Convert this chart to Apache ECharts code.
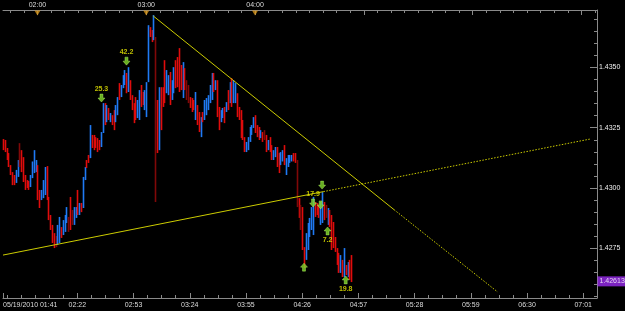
<!DOCTYPE html>
<html><head><meta charset="utf-8">
<script src="https://cdn.jsdelivr.net/npm/echarts@6/dist/echarts.min.js"></script>
<style>html,body{margin:0;padding:0;background:#000;}#c{width:625px;height:311px;}</style>
</head><body><div id="c"></div>
<script>
// ---- data (prices in pips above BASE 1.4000; x = minutes after 01:41 on 05/19/2010) ----
const DATE = '05/19/2010';
const START_MIN = 101; // 01:41
const BASE = 1.4;
const openP = [320,319,316,313,309,306,304,302.5,305,317,314,311,304,303,302,300.5,305,308,307,309,298,295.5,297,299,308,296,288,284,280,279,277,279,283.5,281,283,286,287.5,295,290,285.5,288,298,289.5,293,292,304,311,313,313,321.5,321,320.5,320,319.5,317.5,323,334.5,327.5,333,328,330,331.5,327.5,331,342.5,338,342,343,347,340,344,338,334.5,337,329.5,329,342,339,333,331,344,366.5,365,362,362,336,316,341,341,352,339.5,339,347.5,337,340,352,353.5,357,350.5,338,349,344,342,337.5,337,336,329,334,331,321.5,331,328.5,331,333,336,337,347,341,344,333,327.5,329.5,333,332,340,335.5,345,335.5,336,339,333,332,328,320.5,315.5,316,319.5,322.5,325,330,325.5,325,321,323,323.5,321.5,316,320.5,317.5,312,313,316.5,314,310,311.5,317.5,306,309,311,311.5,314,314,311,295.5,292.5,291.5,275,270.5,275,280,283,281,294,293.5,292.5,285,286,294,292.5,285,290.5,288.5,285.5,279.5,275,272.5,265,270,263.5,268,263.5,270,272];
const highP = [320.3,319.9,316.6,314.5,309.5,306.6,305.4,307.5,311.6,318.6,315.7,312.8,305.4,303.3,302.9,305.4,311,315.7,311.6,309.5,299.2,299.2,303.3,308.7,309.1,296.3,288.8,284.7,281.3,280.1,284.7,288,283.8,286.7,288.8,292.1,288,296.3,290.9,292.1,292.1,299.2,293.8,293.8,304.6,308.7,311.6,313.7,326.1,322,322,321.1,320.7,319.9,323.2,335.2,335.2,334.4,333.2,331.1,330.2,332.3,334.4,337.7,343.5,342.7,346.8,348.9,347.7,350.1,344.7,338.5,335.2,337.7,336.5,340.6,342.7,339.8,340.6,343.9,367.5,366.7,365.5,371.7,362.6,336.5,341.8,341.8,341.8,353,348.9,346.8,348.1,344.7,350.1,353,354.3,358,351,352.2,349.7,344.7,342.7,337.7,337.3,336.5,339.8,334.4,331.5,329.4,331.5,336.5,337.3,338.5,342.7,347.7,347.7,344.7,344.7,333.6,332.3,333.2,333.6,335.6,340.6,343.9,345.6,344.7,343.5,339.3,333.6,332.3,328.2,321.1,319.1,321.1,325.3,326.1,329.4,330.2,326.1,325.3,324,323.2,324,322,319.9,321.1,317.8,315.7,317,317,314.5,314.9,315.7,317.8,312.4,313.7,313.7,313.7,314.5,314.5,311.6,295.8,293,292.1,275.5,281.3,285.5,287.6,292.1,296.3,294.2,293.8,293,294.2,298.3,294.2,293,291.7,290.9,288.8,285.9,279.7,275.1,273.1,272.2,270.2,275.1,268.1,269.3,270.2,272.2];
const lowP = [315.7,314.9,311.6,308.7,305.4,301.2,301.2,302.1,304.6,308.7,306.6,302.5,299.2,300,299.2,300.4,304.1,306.2,306.6,295,291.7,295,295.8,297.1,295,286.7,282.6,277.2,275.1,275.5,276.4,277.2,279.3,280.5,281.8,285.5,281.8,282.6,284.7,284.7,287.6,288.8,288.8,290,291.7,303.3,308.3,310.4,312.4,316.6,315.7,316.6,314.9,315.7,317,322.8,326.1,327.3,328.2,327.3,326.1,324,327.3,330.2,336.5,337.7,341.4,342.7,339.3,339.8,336.5,332.3,326.9,328.2,329,328.2,333.6,334.4,332.3,329.4,343.9,362.6,360.5,361.3,294.2,314.5,315.7,324,333.6,335.2,339.3,338.5,334.4,336.5,339.3,341.4,341.8,339.8,340.6,337.3,340.6,336.5,335.2,333.2,331.5,332.3,328.2,326.1,323.2,321.1,327.3,328.2,330.2,332.3,335.2,336.5,339.8,340.6,329.4,324,327.3,329,326.9,331.5,332.3,335.2,333.6,335.2,335.2,329.4,328.2,320.7,319.9,314.9,314.9,315.7,319.1,322,324.9,322.8,321.1,319.9,320.7,319.1,319.9,314.9,315.7,314.9,311.6,311.6,312.8,308.7,306.2,309.5,311,309.5,305.4,308.7,310.4,311,311,310.4,292.1,287.6,282.6,274.3,266.8,270.2,274.3,279.7,282.6,280.5,288,288.8,287.6,284.7,285.5,286.7,287.6,284.7,283.8,274.3,275.1,273.5,268.1,264.8,264.8,263.1,263.1,263.9,263.1,261.9,261];
const closeP = [316,315.5,312,309,306,302,301.5,307,311,309,307,303,300,300.5,299.5,305,310,315,311,296,292,298.5,303,308,296,287,283,278,276,276,284,287,280,286,288,291.5,282.5,284,285,291,291.5,289.5,293,290.5,304,308,308.5,311,325,317,316.5,317,315.5,316,322.5,334,327,333.5,328.5,331,326.5,325,333.5,337,338,342,346,348.5,340,349.5,337,333,327.5,329,336,340,334,335,340,343,367,363,361,371,325,316,341,325,334,336,348,346,335,344,349.5,342,342.5,340.5,341,351.5,341,337,336,333.5,332,332.5,339,326.5,323.5,329,327.5,336,337,338,342,347,340,344,330,324.5,332,333,327.5,335.5,333,343.5,334,344,343,330,328.5,321,320.5,315.5,318.5,320.5,325,325.5,329,323,321.5,320.5,323.5,319.5,320,315.5,319.5,315.5,312,315,316.5,309,306.5,314.5,315,310,312,313,313.5,313.5,311.5,311,293,288,283,275,267.5,281,285,287,291.5,296,288.5,289,288,294,298,287,288,291.5,284,275,276,274,268.5,265,272,263.5,275,264,269,262,261.3];
const darkBars = [9,29,36,38,84,101,102,144,162,164,178];
const bottomLabelMinutes = [0,41,72,103,134,165,196,227,258,289,320];
const topLabelMinutes = [19,79,139];
const hourMinutes = [19,79,139,199,259,319];
const yLabelPrices = [1.4275,1.4300,1.4325,1.4350];
const lastPrice = 1.42613;
const supportLine = [[0,272.2],[176.7,298.5],[323.8,320.3]];   // [minute, pips]
const resistLine  = [[82.9,371.3],[215.7,291.0],[272.8,256.9]];
const sellSignals = [[54.3,337.3,'25.3'],[68.1,352.6,'42.2'],[171,293.8,'17.9'],[175.2,293.0,''],[176,301.2,'']];
const buySignals  = [[166,267.2,''],[179,282.2,'7.2'],[189,261.9,'19.8']];

// ---- helpers ----
const px = p => +(BASE + p/10000).toFixed(5);
const X_MIN = 0, X_MAX = 327.6;
const Y_MIN = 1.42544, Y_MAX = 1.43738;
const RED = '#e00c0c', BLUE = '#1f7af4', DARK = '#800808';
const AX = '#8a8a8a', TXT = '#dcdcdc';
const darkSet = new Set(darkBars);
function hhmm(m){ const t = START_MIN + Math.round(m); const h = Math.floor(t/60)%24, mm = t%60; return String(h).padStart(2,'0')+':'+String(mm).padStart(2,'0'); }

const bars = openP.map((o,i)=>[i, px(o), px(closeP[i]), px(lowP[i]), px(highP[i])]);
const bottomMinor = []; for (let v = 2.25; v < X_MAX; v += 7.75) bottomMinor.push(+v.toFixed(2));
const topMinor = []; for (let v = 4; v < X_MAX; v += 7.5) topMinor.push(v);
const yMinor = []; for (let p = 255; p <= 370; p += 5) yMinor.push(px(p));

const FONT = 'Liberation Sans';
const chart = echarts.init(document.getElementById('c'), null, {renderer:'canvas'});
const option = {
  backgroundColor: '#000',
  animation: false,
  grid: {left: 0, right: 28, top: 10, bottom: 13, containLabel: false},
  xAxis: [
    {type:'value', position:'bottom', min:X_MIN, max:X_MAX,
     axisLine:{show:true, onZero:false, lineStyle:{color:AX, width:1}},
     axisTick:{show:true, inside:true, length:5, customValues:bottomLabelMinutes, lineStyle:{color:AX}},
     axisLabel:{show:true, customValues:bottomLabelMinutes, color:TXT, fontSize:7, fontFamily:FONT, margin:4,
       alignMinLabel:'left', formatter:v => v===0 ? DATE+' '+hhmm(v) : hhmm(v)},
     splitLine:{show:false}},
    {type:'value', position:'bottom', min:X_MIN, max:X_MAX,
     axisLine:{show:false, onZero:false}, axisLabel:{show:false}, splitLine:{show:false},
     axisTick:{show:true, inside:true, length:3, customValues:bottomMinor, lineStyle:{color:AX}}},
    {type:'value', position:'top', min:X_MIN, max:X_MAX,
     axisLine:{show:true, onZero:false, lineStyle:{color:AX, width:1}},
     axisTick:{show:true, inside:true, length:5, customValues:hourMinutes, lineStyle:{color:AX}},
     axisLabel:{show:true, customValues:topLabelMinutes, color:TXT, fontSize:7, fontFamily:FONT, margin:1, formatter:v=>hhmm(v)},
     splitLine:{show:false}},
    {type:'value', position:'top', min:X_MIN, max:X_MAX,
     axisLine:{show:false, onZero:false}, axisLabel:{show:false}, splitLine:{show:false},
     axisTick:{show:true, inside:true, length:3, customValues:topMinor, lineStyle:{color:AX}}}
  ],
  yAxis: [
    {type:'value', position:'right', min:Y_MIN, max:Y_MAX,
     axisLine:{show:true, onZero:false, lineStyle:{color:AX, width:1}},
     axisTick:{show:true, inside:true, length:7, customValues:yLabelPrices, lineStyle:{color:AX}},
     axisLabel:{show:true, customValues:yLabelPrices, color:'#eeeeee', fontSize:7, fontFamily:FONT, margin:2, formatter:v=>v.toFixed(4)},
     splitLine:{show:false}},
    {type:'value', position:'right', min:Y_MIN, max:Y_MAX,
     axisLine:{show:false, onZero:false}, axisLabel:{show:false}, splitLine:{show:false},
     axisTick:{show:true, inside:true, length:3, customValues:yMinor, lineStyle:{color:AX}}}
  ],
  series: [
    {type:'line', silent:true, showSymbol:false, symbol:'none', xAxisIndex:0, yAxisIndex:0,
     data: supportLine.slice(0,2).map(d=>[d[0], px(d[1])]), lineStyle:{color:'#cccc00', width:1}, z:3},
    {type:'line', silent:true, showSymbol:false, symbol:'none', xAxisIndex:0, yAxisIndex:0,
     data: supportLine.slice(1).map(d=>[d[0], px(d[1])]), lineStyle:{color:'#cccc00', width:1, type:[1.5,1.5]}, z:3},
    {type:'line', silent:true, showSymbol:false, symbol:'none', xAxisIndex:0, yAxisIndex:0,
     data: resistLine.slice(0,2).map(d=>[d[0], px(d[1])]), lineStyle:{color:'#cccc00', width:1}, z:3},
    {type:'line', silent:true, showSymbol:false, symbol:'none', xAxisIndex:0, yAxisIndex:0,
     data: resistLine.slice(1).map(d=>[d[0], px(d[1])]), lineStyle:{color:'#cccc00', width:1, type:[1.5,1.5]}, z:3},
    {type:'custom', xAxisIndex:0, yAxisIndex:0, data: bars, clip:false, z:2,
     renderItem(params, api){
       const i = params.dataIndex;
       const x = api.value(0), o = api.value(1), c = api.value(2), l = api.value(3), h = api.value(4);
       const pH = api.coord([x,h]), pL = api.coord([x,l]);
       const col = darkSet.has(i) ? DARK : (c >= o ? BLUE : RED);
       const xx = Math.round(pH[0]) + 0.5;
       return {type:'line', shape:{x1:xx, y1:pH[1], x2:xx, y2:pL[1]}, style:{stroke:col, lineWidth:1.6}};
     }},
    {type:'scatter', xAxisIndex:0, yAxisIndex:0, z:5, clip:false,
     data: sellSignals.map(d=>({value:[d[0], px(d[1])], label:{show:!!d[2], formatter:d[2]}})),
     symbol:'path://M2,0L5,0L5,4L7,4L3.5,8L0,4L2,4Z', symbolSize:[7,8],
     itemStyle:{color:'#82d92a', borderColor:'#b8ff6a', borderWidth:0.5},
     label:{position:'top', distance:1, color:'#e8e800', fontSize:7, fontWeight:'bold', fontFamily:FONT}},
    {type:'scatter', xAxisIndex:0, yAxisIndex:0, z:5, clip:false,
     data: buySignals.map(d=>({value:[d[0], px(d[1])], label:{show:!!d[2], formatter:d[2]}})),
     symbol:'path://M3.5,0L7,4L5,4L5,8L2,8L2,4L0,4Z', symbolSize:[7,8],
     itemStyle:{color:'#82d92a', borderColor:'#b8ff6a', borderWidth:0.5},
     label:{position:'bottom', distance:1, color:'#e8e800', fontSize:7, fontWeight:'bold', fontFamily:FONT}},
    {type:'scatter', xAxisIndex:0, yAxisIndex:0, z:6, clip:false,
     data: topLabelMinutes.map(m=>[m, Y_MAX]),
     symbol:'triangle', symbolRotate:180, symbolSize:[6,5], symbolOffset:[0,3],
     itemStyle:{color:'#d8961a'}},
    {type:'scatter', xAxisIndex:0, yAxisIndex:0, z:7, clip:false,
     data: [[X_MAX, lastPrice]], symbolSize:1, itemStyle:{color:'rgba(0,0,0,0)'},
     label:{show:true, position:'right', distance:0, formatter:lastPrice.toFixed(5),
       backgroundColor:'#9b2cf0', color:'#ffffff', fontSize:7, fontFamily:FONT, padding:[2,2,1,2]}}
  ]
};
chart.setOption(option);
</script></body></html>
